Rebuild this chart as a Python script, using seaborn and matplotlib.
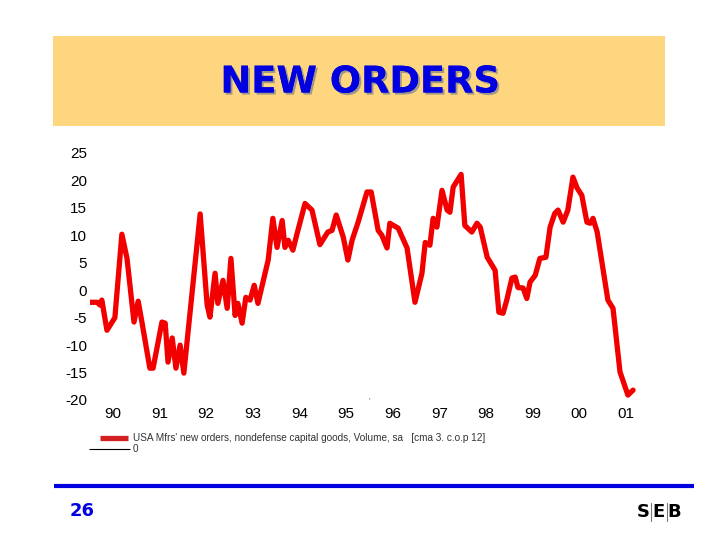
import matplotlib
matplotlib.use("Agg")
import numpy as np
import pandas as pd
import seaborn as sns
import matplotlib.pyplot as plt
import matplotlib.patheffects as pe
from matplotlib.patches import Rectangle
from matplotlib.lines import Line2D

# Values (decimal year, % change)
years = [
    1989.51, 1989.66, 1989.72, 1989.76, 1989.87, 1990.04, 1990.19, 1990.30, 1990.45, 1990.54,
    1990.62, 1990.79, 1990.86, 1991.05, 1991.12, 1991.18, 1991.27, 1991.35, 1991.44, 1991.52,
    1991.87, 1992.02, 1992.08, 1992.19, 1992.25, 1992.36, 1992.45, 1992.53, 1992.62, 1992.68,
    1992.77, 1992.85, 1992.94, 1993.03, 1993.11, 1993.33, 1993.43, 1993.52, 1993.63, 1993.69,
    1993.76, 1993.86, 1993.94, 1994.12, 1994.27, 1994.44, 1994.61, 1994.70, 1994.79, 1994.94,
    1995.04, 1995.13, 1995.26, 1995.45, 1995.54, 1995.69, 1995.77, 1995.88, 1995.94, 1996.12,
    1996.31, 1996.48, 1996.63, 1996.70, 1996.80, 1996.87, 1996.95, 1997.06, 1997.17, 1997.23,
    1997.30, 1997.47, 1997.55, 1997.70, 1997.81, 1997.88, 1998.03, 1998.13, 1998.20, 1998.28,
    1998.37, 1998.45, 1998.56, 1998.63, 1998.69, 1998.80, 1998.88, 1998.95, 1999.06, 1999.16,
    1999.29, 1999.38, 1999.48, 1999.55, 1999.66, 1999.76, 1999.87, 1999.96, 2000.06, 2000.17,
    2000.24, 2000.30, 2000.39, 2000.62, 2000.73, 2000.88, 2001.05, 2001.16,
]
orders = [
    -2.2, -2.2, -2.7, -1.8, -7.3, -5.0, 10.2, 5.8, -5.8, -2.0,
    -5.8, -14.2, -14.2, -5.8, -6.0, -13.1, -8.7, -14.2, -10.0, -15.1,
    13.9, -2.7, -4.9, 3.1, -2.4, 1.8, -3.3, 5.8, -4.6, -2.4,
    -6.0, -1.3, -1.8, 0.9, -2.4, 5.5, 13.1, 7.8, 12.7, 7.8,
    9.1, 7.3, 10.0, 15.8, 14.6, 8.3, 10.6, 10.9, 13.7, 9.7,
    5.5, 9.1, 12.4, 17.9, 17.9, 10.9, 10.0, 7.7, 12.2, 11.3,
    7.7, -2.2, 3.1, 8.7, 8.2, 13.1, 11.5, 18.2, 14.6, 14.2,
    18.8, 21.1, 11.8, 10.6, 12.2, 11.5, 6.0, 4.6, 3.6, -4.0,
    -4.2, -1.8, 2.2, 2.4, 0.5, 0.4, -1.5, 1.5, 2.7, 5.8,
    6.0, 11.5, 14.0, 14.6, 12.4, 14.6, 20.6, 18.6, 17.3, 12.4,
    12.2, 13.1, 10.6, -1.8, -3.3, -14.9, -19.1, -18.2,
]
tick_years = list(range(1990, 2002))
tick_labels = ["90", "91", "92", "93", "94", "95", "96", "97", "98", "99", "00", "01"]
y_ticks = [25, 20, 15, 10, 5, 0, -5, -10, -15, -20]

W, H = 720, 540


def fx(x):
    return x / W


def fy(y):
    return 1 - y / H


sns.set_style("white")
plt.rcParams["font.family"] = ["Liberation Sans", "DejaVu Sans"]
plt.rcParams["axes.unicode_minus"] = False

fig = plt.figure(figsize=(7.2, 5.4), dpi=100)
fig.patch.set_facecolor("white")

# Title banner
fig.patches.append(Rectangle((fx(53), fy(126)), fx(665) - fx(53), fy(36) - fy(126),
                             transform=fig.transFigure, facecolor="#FFD680", edgecolor="none"))
fig.text(fx(360), fy(82), "NEW ORDERS", ha="center", va="center", color="#0000E0",
         fontsize=26.5, fontweight="bold", family="DejaVu Sans",
         path_effects=[pe.withSimplePatchShadow(offset=(1.5, -1.5), shadow_rgbFace="#888888", alpha=0.8),
                       pe.Normal()])

# Chart
ax = fig.add_axes([fx(90), fy(400), fx(640) - fx(90), fy(153) - fy(400)])
df = pd.DataFrame({"year": years, "value": orders})
sns.lineplot(data=df, x="year", y="value", ax=ax, color="#F20000", linewidth=3.8,
             solid_joinstyle="round", solid_capstyle="round")
ax.set_xlim(1989.506, 2001.309)
ax.set_ylim(-20, 25)
ax.set_xticks(tick_years)
ax.set_xticklabels(tick_labels)
ax.set_yticks(y_ticks)
ax.tick_params(axis="both", length=0, labelsize=11, colors="black")
ax.tick_params(axis="y", pad=2)
ax.tick_params(axis="x", pad=5)
ax.set_xlabel("")
ax.set_ylabel("")
for s in ax.spines.values():
    s.set_visible(False)
ax.patch.set_alpha(0)
fig.text(fx(369), fy(401), "'", fontsize=6, ha="center", va="center", color="#555555")

# Legend area
fig.add_artist(Line2D([fx(100), fx(128)], [fy(438), fy(438)], color="#D42020", linewidth=3.8,
                      solid_capstyle="butt", transform=fig.transFigure))
fig.text(fx(133), fy(438), "USA Mfrs' new orders, nondefense capital goods, Volume, sa   [cma 3. c.o.p 12]",
         fontsize=7.2, ha="left", va="center", color="#333333")
fig.add_artist(Line2D([fx(89), fx(130)], [fy(449), fy(449)], color="black", linewidth=0.8,
                      solid_capstyle="butt", transform=fig.transFigure))
fig.text(fx(133), fy(449), "0", fontsize=7.2, ha="left", va="center", color="#333333")

# Footer
fig.add_artist(Line2D([fx(54), fx(694)], [fy(486), fy(486)], color="#0000E0", linewidth=3,
                      solid_capstyle="butt", transform=fig.transFigure))
fig.text(fx(70), fy(511), "26", fontsize=13, fontweight="bold", color="#0000E0",
         ha="left", va="center", family="DejaVu Sans")
for ch, xc in zip("SEB", [643, 658.5, 674.5]):
    fig.text(fx(xc), fy(512), ch, fontsize=13, fontweight="bold", color="black",
             ha="center", va="center", family="DejaVu Sans")
for xb in [650.5, 666.5]:
    fig.add_artist(Line2D([fx(xb), fx(xb)], [fy(503), fy(521)], color="#777777", linewidth=0.8,
                          transform=fig.transFigure))

fig.savefig("out.png", dpi=100)
